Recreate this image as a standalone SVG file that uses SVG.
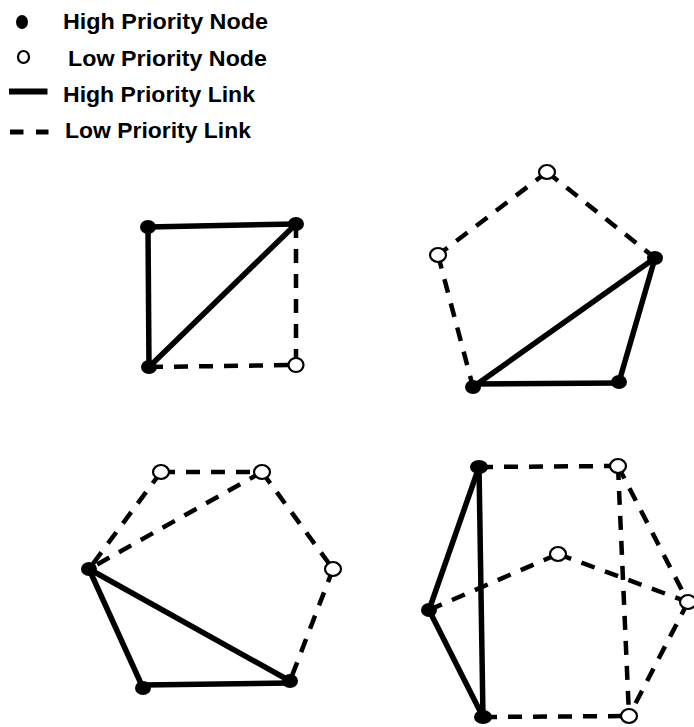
<svg xmlns="http://www.w3.org/2000/svg" width="694" height="727" viewBox="0 0 694 727">
<style>
.bg{fill:#fff}
.t{font-family:"Liberation Sans",Arial,sans-serif;font-weight:bold;font-size:22.5px;fill:#000}
.hl{stroke:#000;stroke-width:5.5;fill:none;stroke-linecap:butt}
.ll{stroke:#000;stroke-width:4.5;fill:none;stroke-dasharray:14 11}
.hn{fill:#000}
.ln{fill:#fff;stroke:#000;stroke-width:2.2}
</style>
<rect class="bg" x="0" y="0" width="694" height="727"/>
<g id="legend">
  <ellipse class="hn" cx="22" cy="22" rx="6" ry="7"/>
  <text class="t" x="63" y="29" textLength="205" lengthAdjust="spacingAndGlyphs">High Priority Node</text>
  <ellipse class="ln" cx="23.5" cy="57" rx="5.5" ry="6"/>
  <text class="t" x="68" y="66" textLength="199" lengthAdjust="spacingAndGlyphs">Low Priority Node</text>
  <line x1="9" y1="91.5" x2="47.5" y2="91.5" stroke="#000" stroke-width="6"/>
  <text class="t" x="63" y="102" textLength="192" lengthAdjust="spacingAndGlyphs">High Priority Link</text>
  <line x1="10" y1="132" x2="23.5" y2="132" stroke="#000" stroke-width="5"/>
  <line x1="36" y1="132" x2="48.5" y2="132" stroke="#000" stroke-width="5"/>
  <text class="t" x="65" y="138" textLength="186" lengthAdjust="spacingAndGlyphs">Low Priority Link</text>
</g>
<g id="connectors">
  <line class="hl" x1="148" y1="227" x2="296" y2="224"/>
  <line class="hl" x1="148" y1="227" x2="149" y2="367"/>
  <line class="hl" x1="149" y1="367" x2="296" y2="224"/>
  <line class="ll" x1="296" y1="224" x2="296" y2="365"/>
  <line class="ll" x1="149" y1="367" x2="296" y2="365"/>
  <line class="ll" x1="547" y1="172" x2="438" y2="255"/>
  <line class="ll" x1="547" y1="172" x2="655" y2="258"/>
  <line class="ll" x1="438" y1="255" x2="473" y2="387"/>
  <line class="hl" x1="655" y1="258" x2="473" y2="387"/>
  <line class="hl" x1="655" y1="258" x2="619" y2="382"/>
  <line class="hl" x1="473" y1="384" x2="619" y2="383"/>
  <line class="ll" x1="161" y1="472" x2="262" y2="472"/>
  <line class="ll" x1="161" y1="472" x2="89" y2="569"/>
  <line class="ll" x1="262" y1="472" x2="89" y2="569"/>
  <line class="ll" x1="262" y1="472" x2="333" y2="569"/>
  <line class="ll" x1="333" y1="569" x2="290" y2="681"/>
  <line class="hl" x1="89" y1="569" x2="290" y2="681"/>
  <line class="hl" x1="89" y1="569" x2="143" y2="688"/>
  <line class="hl" x1="143" y1="685" x2="290" y2="683"/>
  <line class="ll" x1="479" y1="467" x2="618" y2="466"/>
  <line class="hl" x1="479" y1="467" x2="429" y2="610"/>
  <line class="hl" x1="479" y1="467" x2="483" y2="717"/>
  <line class="hl" x1="429" y1="610" x2="483" y2="717"/>
  <line class="ll" x1="429" y1="610" x2="558" y2="554"/>
  <line class="ll" x1="558" y1="554" x2="688" y2="602"/>
  <line class="ll" x1="618" y1="466" x2="688" y2="602"/>
  <line class="ll" x1="618" y1="466" x2="629" y2="716"/>
  <line class="ll" x1="688" y1="602" x2="629" y2="716"/>
  <line class="ll" x1="483" y1="717" x2="629" y2="716"/>
</g>
<g id="g1-n1"><ellipse class="hn" cx="148" cy="227" rx="8" ry="7"/></g>
<g id="g1-n2"><ellipse class="hn" cx="296" cy="224" rx="8" ry="7"/></g>
<g id="g1-n3"><ellipse class="hn" cx="149" cy="367" rx="8" ry="7"/></g>
<g id="g1-n4"><ellipse class="ln" cx="296" cy="365" rx="7.5" ry="7"/></g>
<g id="g2-n1"><ellipse class="ln" cx="547" cy="172" rx="8" ry="7"/></g>
<g id="g2-n2"><ellipse class="ln" cx="438" cy="255" rx="8" ry="7"/></g>
<g id="g2-n3"><ellipse class="hn" cx="655" cy="258" rx="8" ry="7"/></g>
<g id="g2-n4"><ellipse class="hn" cx="473" cy="387" rx="8" ry="7"/></g>
<g id="g2-n5"><ellipse class="hn" cx="619" cy="382" rx="8" ry="7"/></g>
<g id="g3-n1"><ellipse class="ln" cx="161" cy="472" rx="8" ry="7"/></g>
<g id="g3-n2"><ellipse class="ln" cx="262" cy="472" rx="8" ry="7"/></g>
<g id="g3-n3"><ellipse class="ln" cx="333" cy="569" rx="8" ry="7"/></g>
<g id="g3-n4"><ellipse class="hn" cx="89" cy="569" rx="8" ry="7"/></g>
<g id="g3-n5"><ellipse class="hn" cx="143" cy="688" rx="8" ry="7"/></g>
<g id="g3-n6"><ellipse class="hn" cx="290" cy="681" rx="8" ry="7"/></g>
<g id="g4-n1"><ellipse class="hn" cx="479" cy="467" rx="9" ry="7"/></g>
<g id="g4-n2"><ellipse class="ln" cx="618" cy="466" rx="8" ry="7"/></g>
<g id="g4-n3"><ellipse class="ln" cx="558" cy="554" rx="8" ry="7"/></g>
<g id="g4-n4"><ellipse class="ln" cx="688" cy="602" rx="8" ry="7"/></g>
<g id="g4-n5"><ellipse class="hn" cx="429" cy="610" rx="8" ry="7"/></g>
<g id="g4-n6"><ellipse class="hn" cx="483" cy="717" rx="9" ry="7"/></g>
<g id="g4-n7"><ellipse class="ln" cx="629" cy="716" rx="8" ry="7"/></g>
</svg>
